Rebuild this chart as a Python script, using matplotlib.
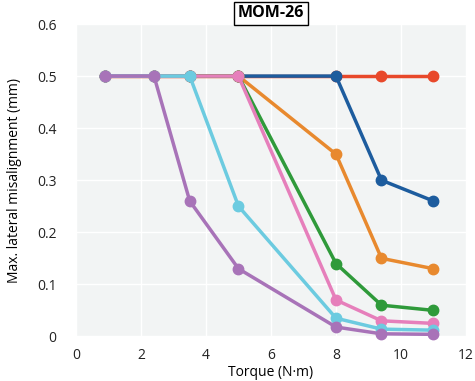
import matplotlib
matplotlib.use('Agg')
import matplotlib.pyplot as plt
from matplotlib.ticker import FuncFormatter

plt.rcParams['font.family'] = ['Open Sans', 'DejaVu Sans']

torque = [0.9, 2.4, 3.5, 5.0, 8.0, 9.4, 11.0]

# series drawn bottom to top
names = ['red', 'blue', 'orange', 'green', 'pink', 'cyan', 'purple']
colors = ['#e8482a', '#1d5c9e', '#e8892e', '#2f9a3a', '#e67fbb', '#6ccbe0', '#a873b8']
values = [
    [0.5, 0.5, 0.5, 0.5, 0.5, 0.5, 0.5],
    [0.5, 0.5, 0.5, 0.5, 0.5, 0.30, 0.26],
    [0.5, 0.5, 0.5, 0.5, 0.35, 0.15, 0.13],
    [0.5, 0.5, 0.5, 0.5, 0.14, 0.06, 0.05],
    [0.5, 0.5, 0.5, 0.5, 0.07, 0.03, 0.025],
    [0.5, 0.5, 0.5, 0.25, 0.035, 0.014, 0.012],
    [0.5, 0.5, 0.26, 0.13, 0.018, 0.005, 0.004],
]

fig = plt.figure(figsize=(4.75, 3.81), dpi=100)
ax = fig.add_axes([0.16, 0.117, 0.821, 0.82])
ax.set_facecolor('#f2f4f4')

for v, c in zip(values, colors):
    ax.plot(torque, v, color=c, lw=2.5, marker='o', ms=7.5, clip_on=False)

ax.set_xlim(0, 12)
ax.set_ylim(0, 0.6)
ax.set_xticks(range(0, 13, 2))
ax.set_yticks([0, 0.1, 0.2, 0.3, 0.4, 0.5, 0.6])
ax.yaxis.set_major_formatter(FuncFormatter(lambda y, p: '0' if y == 0 else '%.1f' % y))
ax.grid(True, color='white', lw=1.0)
ax.set_axisbelow(True)
for s in ax.spines.values():
    s.set_visible(False)
ax.tick_params(length=0, labelsize=10, pad=8, colors='#222222')
ax.tick_params(axis='y', pad=14)
ax.set_xlabel('Torque (N·m)', fontsize=10, labelpad=2)
ax.set_ylabel('Max. lateral misalignment (mm)', fontsize=10, labelpad=11)
ax.set_title('MOM-26', fontsize=11.5, fontweight='bold', pad=5,
             bbox=dict(facecolor='white', edgecolor='black', lw=1, pad=2.5))

fig.savefig('out.png', dpi=100)
